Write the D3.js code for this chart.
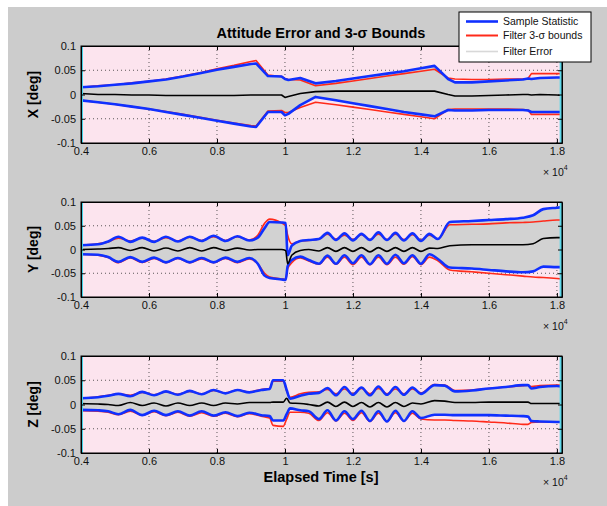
<!DOCTYPE html>
<html><head><meta charset="utf-8">
<script src="https://cdn.jsdelivr.net/npm/d3@7"></script>
<style>body{margin:0;background:#fff}svg{display:block;font-family:"Liberation Sans",Arial,sans-serif}</style>
</head><body><svg id="c" width="607" height="506"></svg>
<script>
// ---- data (time in units of 1e4 s, values in deg) ----
const xTicks = [0.4,0.6,0.8,1.0,1.2,1.4,1.6,1.8];
const xTickLabels = ["0.4","0.6","0.8","1","1.2","1.4","1.6","1.8"];
const yTicks = [-0.1,-0.05,0,0.05,0.1];
const yTickLabels = ["-0.1","-0.05","0","0.05","0.1"];
const legendLabels = ["Sample Statistic","Filter 3-\u03c3 bounds","Filter Error"];

const tX = [0.40,0.45,0.50,0.55,0.60,0.65,0.70,0.75,0.80,0.85,0.90,0.915,0.95,0.99,1.00,1.01,1.045,1.09,1.15,1.20,1.25,1.30,1.35,1.40,1.44,1.48,1.50,1.55,1.60,1.65,1.70,1.715,1.725,1.75,1.80,1.815];
const xBlueUp = [0.015,0.017,0.020,0.023,0.027,0.031,0.037,0.044,0.051,0.057,0.063,0.064,0.038,0.037,0.032,0.030,0.034,0.023,0.028,0.033,0.038,0.043,0.048,0.054,0.059,0.032,0.025,0.025,0.027,0.029,0.031,0.033,0.032,0.034,0.035,0.035];
const xRedUp = [0.015,0.018,0.020,0.024,0.027,0.032,0.038,0.045,0.053,0.060,0.068,0.070,0.040,0.037,0.033,0.031,0.030,0.018,0.023,0.028,0.033,0.038,0.043,0.048,0.052,0.034,0.032,0.031,0.031,0.032,0.032,0.033,0.043,0.043,0.043,0.043];
const xBlueLo = [-0.012,-0.016,-0.020,-0.025,-0.030,-0.036,-0.042,-0.048,-0.054,-0.060,-0.066,-0.067,-0.036,-0.036,-0.043,-0.040,-0.022,-0.005,-0.012,-0.018,-0.024,-0.030,-0.036,-0.041,-0.045,-0.032,-0.033,-0.033,-0.032,-0.032,-0.032,-0.033,-0.036,-0.036,-0.036,-0.036];
const xRedLo = [-0.012,-0.016,-0.020,-0.025,-0.030,-0.035,-0.041,-0.047,-0.053,-0.059,-0.064,-0.065,-0.034,-0.033,-0.037,-0.037,-0.027,-0.016,-0.021,-0.026,-0.031,-0.036,-0.041,-0.046,-0.050,-0.031,-0.030,-0.030,-0.030,-0.030,-0.031,-0.032,-0.041,-0.041,-0.041,-0.041];
const xErr = [0.002,0.0,0.0,-0.001,-0.001,-0.002,-0.002,-0.002,-0.002,-0.002,-0.001,-0.001,-0.001,-0.001,-0.006,-0.004,0.002,0.006,0.007,0.007,0.007,0.007,0.007,0.007,0.007,0.0,-0.003,-0.003,-0.002,-0.001,0.0,0.0,-0.001,0.0,-0.001,-0.002];

const tY = [0.40,0.45,0.48,0.51,0.545,0.58,0.615,0.65,0.685,0.72,0.755,0.79,0.825,0.86,0.895,0.92,0.94,0.955,0.99,1.002,1.008,1.02,1.045,1.07,1.10,1.125,1.15,1.175,1.20,1.225,1.25,1.275,1.30,1.325,1.35,1.375,1.40,1.425,1.45,1.485,1.55,1.60,1.65,1.70,1.73,1.76,1.80,1.815];
const yBlueUp = [0.009,0.011,0.017,0.027,0.016,0.025,0.016,0.027,0.017,0.027,0.018,0.029,0.018,0.028,0.019,0.025,0.045,0.058,0.057,0.056,-0.012,0.008,0.018,0.020,0.022,0.035,0.020,0.034,0.019,0.033,0.020,0.036,0.020,0.035,0.019,0.034,0.018,0.033,0.022,0.058,0.060,0.062,0.064,0.067,0.072,0.085,0.088,0.089];
const yRedUp = [0.009,0.012,0.016,0.024,0.018,0.024,0.017,0.025,0.018,0.026,0.019,0.027,0.019,0.027,0.020,0.030,0.055,0.064,0.056,0.050,0.030,0.012,0.018,0.019,0.022,0.032,0.022,0.030,0.021,0.031,0.021,0.032,0.021,0.032,0.021,0.031,0.020,0.030,0.022,0.052,0.053,0.054,0.056,0.057,0.058,0.060,0.062,0.062];
const yBlueLo = [-0.010,-0.011,-0.016,-0.026,-0.016,-0.026,-0.017,-0.027,-0.018,-0.027,-0.018,-0.027,-0.017,-0.026,-0.018,-0.030,-0.055,-0.060,-0.063,-0.064,-0.035,-0.022,-0.015,-0.022,-0.030,-0.013,-0.030,-0.012,-0.029,-0.012,-0.031,-0.012,-0.030,-0.011,-0.029,-0.012,-0.030,-0.010,-0.020,-0.038,-0.040,-0.043,-0.046,-0.048,-0.046,-0.036,-0.037,-0.037];
const yRedLo = [-0.010,-0.012,-0.017,-0.028,-0.018,-0.027,-0.019,-0.028,-0.019,-0.028,-0.020,-0.028,-0.019,-0.028,-0.020,-0.030,-0.050,-0.058,-0.062,-0.063,-0.040,-0.028,-0.018,-0.024,-0.031,-0.016,-0.031,-0.016,-0.032,-0.016,-0.032,-0.016,-0.032,-0.016,-0.031,-0.015,-0.032,-0.016,-0.024,-0.043,-0.047,-0.050,-0.053,-0.056,-0.058,-0.059,-0.061,-0.062];
const yErr = [0.0,0.001,0.002,0.004,-0.002,0.004,-0.003,0.003,-0.003,0.004,-0.003,0.004,-0.002,0.003,-0.001,0.0,0.0,0.0,0.0,-0.002,-0.030,-0.012,-0.002,0.0,-0.003,0.004,-0.004,0.004,-0.004,0.004,-0.005,0.004,-0.004,0.004,-0.004,0.004,-0.004,0.003,0.002,0.008,0.010,0.010,0.010,0.010,0.012,0.023,0.025,0.025];

const tZ = [0.40,0.45,0.48,0.51,0.545,0.58,0.615,0.65,0.685,0.72,0.755,0.79,0.825,0.86,0.895,0.93,0.955,0.965,0.995,1.005,1.015,1.045,1.07,1.10,1.125,1.15,1.175,1.20,1.225,1.25,1.275,1.30,1.325,1.35,1.375,1.40,1.44,1.47,1.50,1.55,1.60,1.65,1.70,1.715,1.725,1.75,1.80,1.815];
const zBlueUp = [0.013,0.015,0.018,0.022,0.017,0.026,0.019,0.027,0.020,0.028,0.021,0.030,0.023,0.030,0.025,0.030,0.032,0.050,0.050,0.030,0.012,0.018,0.022,0.024,0.034,0.019,0.036,0.020,0.035,0.019,0.037,0.020,0.036,0.020,0.035,0.022,0.040,0.039,0.027,0.029,0.033,0.036,0.040,0.040,0.033,0.036,0.038,0.037];
const zRedUp = [0.012,0.016,0.019,0.022,0.019,0.025,0.020,0.026,0.021,0.027,0.022,0.029,0.024,0.030,0.026,0.031,0.033,0.048,0.048,0.028,0.015,0.022,0.025,0.026,0.031,0.022,0.032,0.022,0.033,0.022,0.033,0.022,0.032,0.022,0.032,0.024,0.041,0.040,0.029,0.030,0.033,0.036,0.039,0.040,0.037,0.039,0.040,0.040];
const zBlueLo = [-0.011,-0.012,-0.014,-0.020,-0.011,-0.022,-0.013,-0.022,-0.014,-0.023,-0.014,-0.023,-0.016,-0.024,-0.017,-0.022,-0.024,-0.033,-0.033,-0.020,-0.008,-0.012,-0.014,-0.030,-0.012,-0.033,-0.014,-0.030,-0.013,-0.034,-0.014,-0.035,-0.013,-0.034,-0.014,-0.028,-0.021,-0.021,-0.022,-0.022,-0.022,-0.023,-0.024,-0.025,-0.034,-0.035,-0.036,-0.036];
const zRedLo = [-0.013,-0.014,-0.016,-0.021,-0.014,-0.022,-0.015,-0.023,-0.016,-0.024,-0.017,-0.024,-0.018,-0.025,-0.019,-0.024,-0.028,-0.043,-0.045,-0.030,-0.016,-0.016,-0.018,-0.033,-0.017,-0.034,-0.018,-0.033,-0.017,-0.035,-0.018,-0.035,-0.017,-0.034,-0.018,-0.030,-0.032,-0.032,-0.033,-0.034,-0.036,-0.038,-0.041,-0.041,-0.037,-0.036,-0.036,-0.036];
const zErr = [0.002,0.001,0.0,-0.002,0.004,-0.002,0.003,-0.003,0.003,-0.002,0.003,-0.002,0.003,0.001,0.004,0.004,0.004,0.005,0.005,0.013,0.003,0.002,0.0,-0.003,0.005,-0.004,0.005,-0.004,0.004,-0.005,0.004,-0.005,0.004,-0.004,0.003,0.001,0.008,0.007,0.004,0.004,0.005,0.005,0.005,0.005,0.002,0.002,0.002,0.002];

// ---- drawing ----
const svg = d3.select("#c");
svg.append("rect").attr("x",8).attr("y",7).attr("width",599).attr("height",499).attr("fill","#cccccc");

const panels = [
  {top:46, bottom:143, label:"X [deg]", t:tX, bu:xBlueUp, ru:xRedUp, bl:xBlueLo, rl:xRedLo, e:xErr},
  {top:202, bottom:297, label:"Y [deg]", t:tY, bu:yBlueUp, ru:yRedUp, bl:yBlueLo, rl:yRedLo, e:yErr},
  {top:356, bottom:453, label:"Z [deg]", t:tZ, bu:zBlueUp, ru:zRedUp, bl:zBlueLo, rl:zRedLo, e:zErr}
];
const x = d3.scaleLinear().domain([0.4,1.815]).range([81,562]);

panels.forEach((p,i)=>{
  const y = d3.scaleLinear().domain([-0.1,0.1]).range([p.bottom,p.top]);
  const g = svg.append("g");
  const cid = "clip"+i;
  svg.append("clipPath").attr("id",cid).append("rect")
    .attr("x",81).attr("y",p.top).attr("width",481).attr("height",p.bottom-p.top);
  g.append("rect").attr("x",81).attr("y",p.top).attr("width",481).attr("height",p.bottom-p.top).attr("fill","#fce4ee");
  // grid
  const grid = g.append("g").attr("stroke","#333").attr("stroke-width",0.8).attr("stroke-dasharray","1,3");
  xTicks.forEach(v=>{ if(v>0.4) grid.append("line").attr("x1",x(v)).attr("x2",x(v)).attr("y1",p.top).attr("y2",p.bottom);});
  yTicks.forEach(v=>{ if(v>-0.1 && v<0.1) grid.append("line").attr("x1",81).attr("x2",562).attr("y1",y(v)).attr("y2",y(v));});
  const data = p.t.map((t,k)=>({t, bu:p.bu[k], ru:p.ru[k], bl:p.bl[k], rl:p.rl[k], e:p.e[k]}));
  const curve = i===0 ? d3.curveLinear : d3.curveMonotoneX;
  const clip = g.append("g").attr("clip-path",`url(#${cid})`);
  clip.append("path").datum(data).attr("fill","#d2d2d2")
    .attr("d", d3.area().curve(curve).x(d=>x(d.t)).y0(d=>y(d.bl)).y1(d=>y(d.bu)));
  const line = key => d3.line().curve(curve).x(d=>x(d.t)).y(d=>y(d[key]));
  [["ru","#ff2a1a",1.6],["rl","#ff2a1a",1.6],["bu","#1030ff",2.6],["bl","#1030ff",2.6],["e","#000",1.6]].forEach(([k,c,w])=>{
    clip.append("path").datum(data).attr("fill","none").attr("stroke",c).attr("stroke-width",w)
      .attr("stroke-linejoin","round").attr("d", line(k));
  });
  // cyan edges
  g.append("rect").attr("x",81).attr("y",p.top).attr("width",2).attr("height",p.bottom-p.top).attr("fill","#44d4e8");
  g.append("rect").attr("x",x(1.808)).attr("y",p.top).attr("width",562-x(1.808)).attr("height",p.bottom-p.top).attr("fill","#5ed8ea");
  // axes
  const ax = d3.axisBottom(x).tickValues(xTicks).tickFormat((d,k)=>xTickLabels[k]).tickSizeInner(-4).tickSizeOuter(0).tickPadding(4);
  const ay = d3.axisLeft(y).tickValues(yTicks).tickFormat((d,k)=>yTickLabels[k]).tickSizeInner(-4).tickSizeOuter(0).tickPadding(5);
  const axB = g.append("g").attr("transform",`translate(0,${p.bottom})`).call(ax);
  const axL = g.append("g").attr("transform",`translate(81,0)`).call(ay);
  const axT = g.append("g").attr("transform",`translate(0,${p.top})`).call(d3.axisTop(x).tickValues(xTicks).tickFormat("").tickSizeInner(-4).tickSizeOuter(0));
  const axR = g.append("g").attr("transform",`translate(562,0)`).call(d3.axisRight(y).tickValues(yTicks).tickFormat("").tickSizeInner(-4).tickSizeOuter(0));
  [axB,axL,axT,axR].forEach(a=>{ a.select(".domain").attr("stroke","#000"); a.selectAll(".tick line").attr("stroke","#000");
     a.selectAll("text").attr("font-size",11).attr("fill","#111").attr("font-family","Liberation Sans, Arial, sans-serif");});
  g.append("rect").attr("x",81).attr("y",p.top).attr("width",481).attr("height",p.bottom-p.top).attr("fill","none").attr("stroke","#000").attr("stroke-width",1);
  // y label
  g.append("text").attr("transform",`translate(38,${(p.top+p.bottom)/2}) rotate(-90)`).attr("text-anchor","middle")
    .attr("font-size",14).attr("font-weight","bold").attr("fill","#000").text(p.label);
  // x10^4
  const mt = g.append("text").attr("x",543).attr("y",p.bottom+33).attr("font-size",10.5).attr("fill","#111");
  mt.append("tspan").text("\u00d7 10");
  mt.append("tspan").attr("dy",-6).attr("font-size",7).text("4");
});

svg.append("text").attr("x",321).attr("y",38).attr("text-anchor","middle").attr("font-size",14.5).attr("font-weight","bold").text("Attitude Error and 3-\u03c3 Bounds");
svg.append("text").attr("x",321).attr("y",482).attr("text-anchor","middle").attr("font-size",14.5).attr("font-weight","bold").text("Elapsed Time [s]");

// legend
const lg = svg.append("g");
lg.append("rect").attr("x",459).attr("y",12).attr("width",132).attr("height",50).attr("fill","#fff").attr("stroke","#000");
const lcol = ["#1030ff","#ff2a1a","#d8d8d8"], lw=[2.6,2,1.6], ly=[21.5,35.5,51.5];
legendLabels.forEach((s,k)=>{
  lg.append("line").attr("x1",466).attr("x2",498).attr("y1",ly[k]).attr("y2",ly[k]).attr("stroke",lcol[k]).attr("stroke-width",lw[k]);
  lg.append("text").attr("x",503).attr("y",ly[k]+3.5).attr("font-size",10.5).attr("fill","#111").text(s);
});
</script></body></html>
